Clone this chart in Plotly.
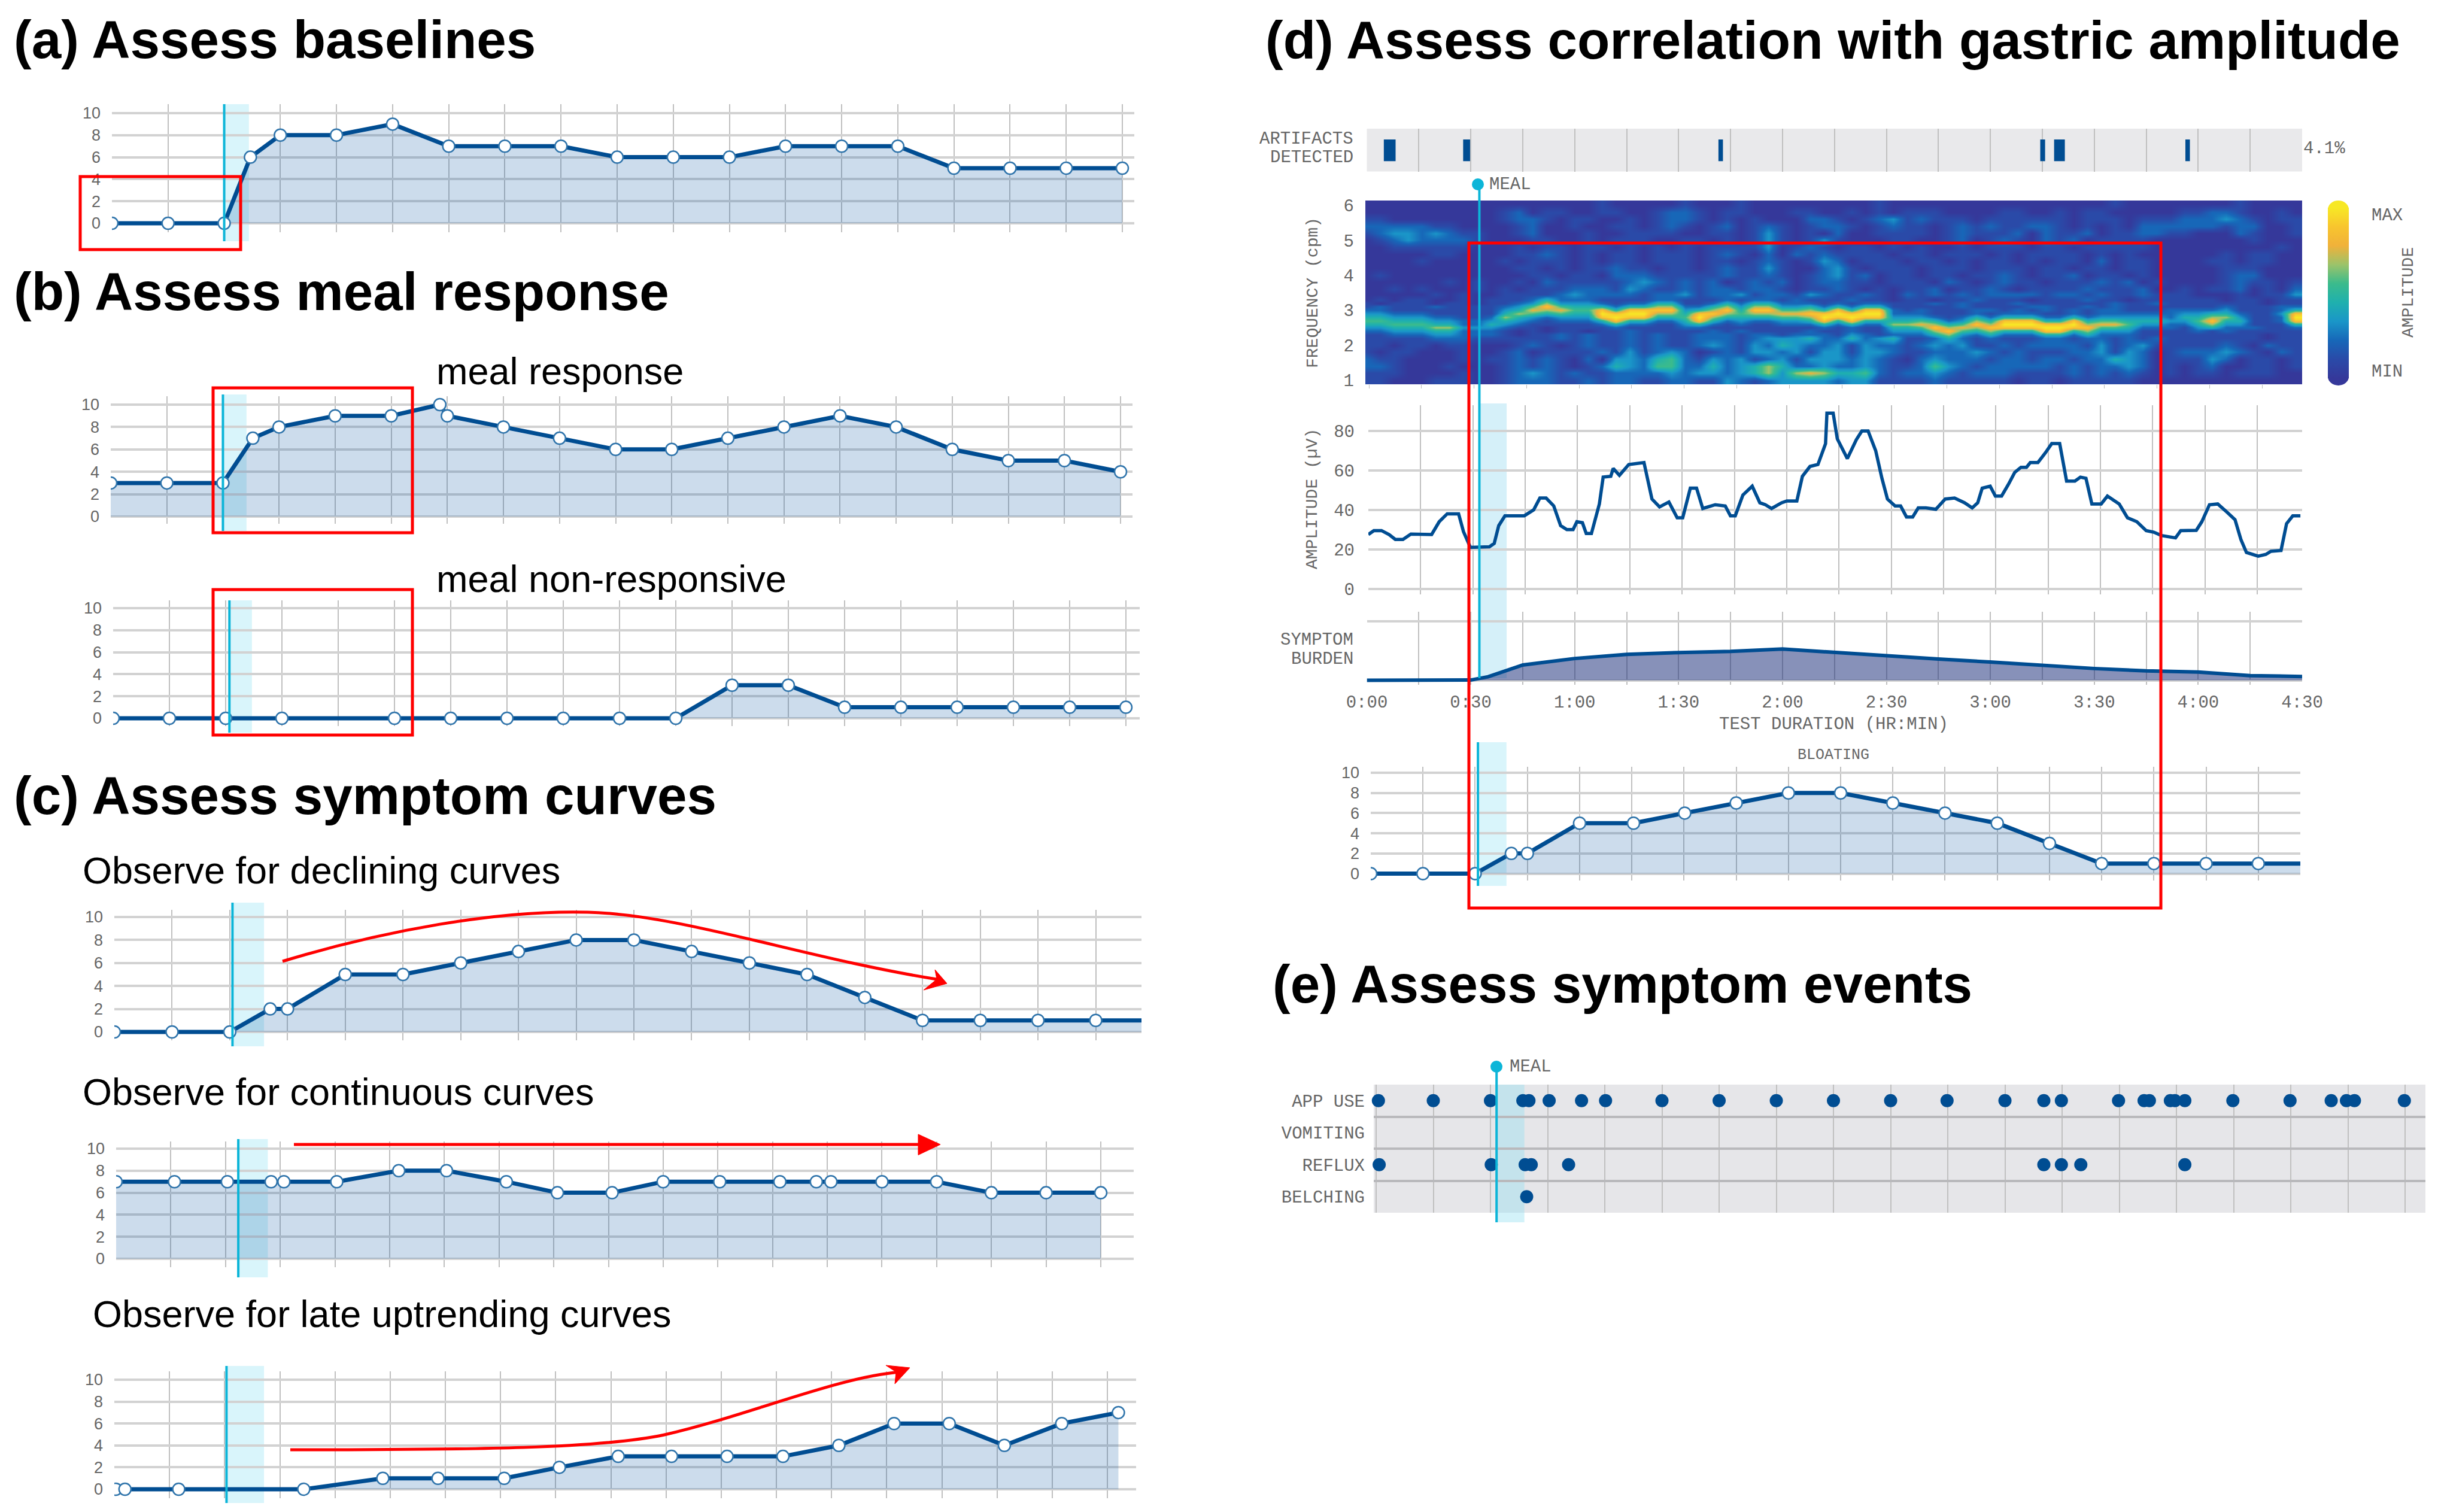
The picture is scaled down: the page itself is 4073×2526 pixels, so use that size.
import plotly.graph_objects as go

# ---------- data ----------
A_T = [0, 15, 30, 37, 45, 60, 75, 90, 105, 120, 135, 150, 165, 180, 195, 210, 225, 240, 255, 270]
A_V = [0, 0, 0, 6, 8, 8, 9, 7, 7, 7, 6, 6, 6, 7, 7, 7, 5, 5, 5, 5]
B1_T = [0, 15, 30, 38, 45, 60, 75, 88, 90, 105, 120, 135, 150, 165, 180, 195, 210, 225, 240, 255, 270]
B1_V = [3, 3, 3, 7, 8, 9, 9, 10, 9, 8, 7, 6, 6, 7, 8, 9, 8, 6, 5, 5, 4]
B2_T = [0, 15, 30, 45, 75, 90, 105, 120, 135, 150, 165, 180, 195, 210, 225, 240, 255, 270]
B2_V = [0, 0, 0, 0, 0, 0, 0, 0, 0, 0, 3, 3, 1, 1, 1, 1, 1, 1]
C1_T = [0, 15, 30, 40.5, 45, 60, 75, 90, 105, 120, 135, 150, 165, 180, 195, 210, 225, 240, 255, 270]
C1_V = [0, 0, 0, 2, 2, 5, 5, 6, 7, 8, 8, 7, 6, 5, 3, 1, 1, 1, 1, 1]
C2_T = [0, 16, 30.5, 42.5, 46, 60.5, 77.5, 90.6, 107, 121, 136, 150, 165.5, 182, 192, 196, 210, 225, 240, 255, 270]
C2_V = [7, 7, 7, 7, 7, 7, 8, 8, 7, 6, 6, 7, 7, 7, 7, 7, 7, 7, 6, 6, 6]
C3_T = [0.4, 2.9, 17.5, 51.5, 73, 88, 106, 121, 137, 151.5, 166.6, 181.8, 197, 212, 227, 242, 257.6, 273]
C3_V = [0, 0, 0, 0, 1, 1, 1, 2, 3, 3, 3, 3, 4, 6, 6, 4, 6, 7]
BLOAT_T = [0, 15, 30, 40.4, 45, 60, 75.5, 90.2, 105, 120, 135, 150, 165, 180, 195, 210, 225, 240, 255, 270]
BLOAT_V = [0, 0, 0, 2, 2, 5, 5, 6, 7, 8, 8, 7, 6, 5, 3, 1, 1, 1, 1, 1]

ARTIFACT_START = [4.9, 27.8, 101.5, 194.4, 198.4, 236.3]
ARTIFACT_END = [8.3, 29.8, 102.8, 195.8, 201.5, 237.6]

AMP_T = [0, 1.6, 3.8, 6, 7.8, 10, 12.3, 18.3, 20.5, 22.8, 26.1, 27.5, 29.5, 35, 36.4, 37.7, 39.5, 45.1, 47.8, 49.6,
         51.4, 53.6, 55.6, 57.4, 59.2, 60.3, 61.9, 63, 64.5, 66.8, 67.9, 70.1, 70.8, 72.6, 75.3, 79.7, 82, 84.2, 86.9,
         89.3, 90.9, 93.1, 94.9, 96.7, 100.3, 103.2, 104.7, 106.1, 108.3, 111, 113.2, 114.8, 116.6, 119.5, 121, 123.9,
         125.5, 127.7, 130, 132.2, 132.6, 134.4, 135.6, 138.5, 141.1, 142.7, 144.5, 146.7, 148.5, 150.1, 152.3, 153.9,
         155.6, 157.4, 159, 161.2, 164.1, 166.8, 169.5, 172.4, 174.6, 176.2, 177.5, 179.8, 181.3, 183.1, 185.1, 186.9,
         188.7, 190.3, 191.4, 193.6, 195.8, 197.6, 199.9, 201.9, 204.3, 205.9, 207.5, 209.2, 211.9, 213.7, 217.1, 219.5,
         222.2, 224.9, 227.1, 229.3, 233.4, 234.9, 239.4, 241, 243.2, 245.6, 248.3, 250.6, 252.3, 253.9, 257.3, 259.5,
         261, 263.9, 265.5, 267.3, 269.5]
AMP_V = [27.5, 29.5, 29.5, 27.5, 25, 25, 27.7, 27.5, 34, 38, 38, 29, 21, 21.3, 23, 32, 37, 37, 40, 46,
         46, 42, 32, 30, 30, 34, 33.5, 28, 28, 43, 56.6, 57, 61, 57.5, 63, 64, 45.5, 41.5, 44,
         36, 36, 51, 51, 40.7, 42.6, 42, 37, 37, 47.5, 52, 43.6, 42.6, 40.7, 43.6, 44.5, 44.5,
         57, 62, 63, 73.6, 89, 89, 76, 66, 75.6, 80, 80, 70, 56, 45.5, 42, 42,
         36.4, 36.4, 41, 41, 40.3, 45.5, 46, 43.6, 41, 43.6, 51, 52, 47, 47, 53, 59,
         61.6, 61.6, 64, 64, 69, 73.6, 73.6, 54.6, 54.6, 56.6, 56, 43, 43, 47, 43, 36,
         34, 29.5, 28.7, 27, 25.8, 29.5, 29.6, 34, 42.6, 43, 38.8, 35, 25, 18.4, 16.5, 17.4,
         19, 19.4, 33, 37, 37]

BURDEN_T = [0, 27, 30, 35, 42, 45, 60, 75, 90, 105, 120, 135, 150, 165, 180, 195, 210, 225, 240, 255, 270]
BURDEN_V = [0, 0, 0.05, 0.6, 2.1, 2.6, 3.7, 4.4, 4.7, 4.9, 5.3, 4.7, 4.1, 3.6, 3.1, 2.5, 2, 1.6, 1.4, 0.8, 0.65]

EVENT_ROWS = ["APP USE", "VOMITING", "REFLUX", "BELCHING"]
APP_USE_T = [0.6, 15, 30, 38.5, 40.1, 45.4, 53.9, 60.2, 75, 90, 105, 120, 135, 149.8, 165, 175.2, 179.8, 194.8,
             201.5, 202.9, 208.4, 209.6, 212.2, 224.8, 239.8, 250.6, 254.6, 256.7, 269.8]
REFLUX_T = [0.8, 30.2, 39.1, 40.7, 50.5, 175.2, 179.8, 184.9, 212.2]
BELCHING_T = [39.5]

# spectrogram: frequency of each row, then rows top (high cpm) to bottom; one digit per 4-minute column
HEAT_FREQ = [6.04, 5.8, 5.6, 5.4, 5.2, 5.0, 4.8, 4.6, 4.4, 4.2, 4.0, 3.8, 3.6, 3.45,
             3.3, 3.2, 3.1, 3.0, 2.9, 2.8, 2.7, 2.6, 2.5, 2.4, 2.3, 2.2,
             2.0, 1.8, 1.6, 1.4, 1.2, 0.98]
HEAT_ROWS = [
    "0000000000 0000000100 0001000100 0000000100 0000000000 0000100000 00010000",
    "0000000000 1201100110 0122101100 0110010101 1100001100 1011000001 12210010",
    "1100000000 1221011001 0122101010 0022101231 2111011111 1011101112 22321011",
    "2222211000 0120010011 0121012012 1012210121 1012121122 1010102222 22122001",
    "1233232110 0120001001 1110011013 1010200111 1012111202 1120112211 00021001",
    "0123222210 0011001011 1001101013 1013100011 0012012102 1201111000 00001000",
    "0011111100 0101101101 0101011113 0121011010 1001011101 1011111000 00000010",
    "0000011000 0112101011 0111012102 0212111101 1011101011 1101010000 00101100",
    "0000100000 1011101011 0111011012 1013201110 1101011010 1102011000 01101100",
    "0000000000 0110101121 1011012113 1002310111 0111011101 1011011000 00111000",
    "0100000000 0011011022 2111112112 1012312011 0110112101 1201101000 00122000",
    "0000001010 0102111112 3212120121 2012211011 1021012110 1112120100 00121101",
    "0010100010 1011122213 2112122122 1011210101 1201121011 1121112001 01120102",
    "0000010100 1111232222 1223122312 2132112102 1212122221 2212112111 00010113",
    "0101100101 1124222111 1221112122 1211121101 1011211101 1121101111 11011011",
    "1011101101 1236333212 2441124244 2221212211 1212111211 1111211211 11111011",
    "1211121111 2358544424 4662246366 3342424411 1112111122 1121211111 11211122",
    "2211111111 3476755848 8883468488 5564848821 2111221212 1212211122 22311124",
    "3322211111 4654544989 9664886566 7788989922 2111212221 1212222223 34421138",
    "4433322112 6432333898 8445964444 5569898833 3212424442 2423333324 46631129",
    "5544433223 4321222484 4224842322 3348484444 5423648884 4845544433 58441128",
    "4455544224 3211111242 2113421211 2224242266 7645869998 8967753322 46331114",
    "3344466333 2110111121 1112211111 1112121144 5867688889 9885542221 34222112",
    "2233344222 1010110112 1111121211 1121121133 3685464448 8463331111 21211111",
    "1122233222 1011212112 1211222122 1222132122 2463242224 4242221111 11111011",
    "1111122211 1111212112 1211222123 3342242341 1242121112 2122121211 11111011",
    "1101101100 0121012112 1211232132 4322313221 2323112122 2213123111 11210211",
    "1011000100 1201111213 1232012133 2313313321 1222321211 1223132012 22321021",
    "2110000101 1212102033 2452132312 3133323210 2322212212 2122432011 13201101",
    "2210001000 1212101243 2552242346 4223223211 2532122222 1212232010 12001101",
    "1110000100 1232121122 2232332346 3676445212 2321222111 1212121010 11011100",
    "1100011100 1222112122 1122113212 3333233111 1211111011 0111110000 00000000",
]
HEAT_COLORS = ["#35389a", "#2a4aa8", "#1767b8", "#1a96c8", "#1fb0ae", "#3bbb8c",
               "#9cc36a", "#f0b13a", "#f8c52e", "#f7e825"]

TITLES = ["(a) Assess baselines", "(b) Assess meal response", "(c) Assess symptom curves",
          "(d) Assess correlation with gastric amplitude", "(e) Assess symptom events"]
SUBTITLES = ["meal response", "meal non-responsive", "Observe for declining curves",
             "Observe for continuous curves", "Observe for late uptrending curves"]
TIME_LABELS = ["0:00", "", "0:30", "", "1:00", "", "1:30", "", "2:00", "", "2:30", "", "3:00", "", "3:30", "",
               "4:00", "", "4:30"]

# ---------- styling ----------
W, H = 4073, 2526
BLUE = "#004d92"
CYAN = "#0cb5d8"
SHADE = "#d9f5fb"
RED = "#ff0000"
AREA = "rgba(0,80,160,0.2)"
HGRID = "#d2d2d2"
VGRID = "#c0c0c0"
TXT = "#666666"
MONO = "Liberation Mono"
SANS = "Liberation Sans"


def fx(p):
    return p / W


def fy(p):
    return 1 - p / H


fig = go.Figure()
layout = {}
shapes = []
annots = []


def axes(n, left, right, x0, x270, top, bottom, y0, ytop, ytopval, yvals, ylabels=None,
         yfont=(SANS, 27), standoff=18, dtick=15, xgrid=True, ygrid=True, xticks=""):
    ppm = (x270 - x0) / 270
    ppv = (y0 - ytop) / ytopval
    layout[f"xaxis{n}"] = dict(
        domain=[fx(left), fx(right)], range=[(left - x0) / ppm, (right - x0) / ppm],
        anchor=f"y{n}", showgrid=xgrid, gridcolor=VGRID, gridwidth=2, zeroline=False,
        tick0=0, dtick=dtick, showticklabels=False, ticks=xticks, ticklen=6, tickcolor="#bbbbbb")
    layout[f"yaxis{n}"] = dict(
        domain=[fy(bottom), fy(top)], range=[(y0 - bottom) / ppv, (y0 - top) / ppv],
        anchor=f"x{n}", showgrid=ygrid, gridcolor=HGRID, gridwidth=4, zeroline=False,
        tickmode="array", tickvals=yvals, ticktext=ylabels if ylabels is not None else [str(v) for v in yvals],
        ticks="", tickfont=dict(family=yfont[0], size=yfont[1], color=TXT), ticklabelstandoff=standoff)


def meal(n, t, t_end, y_top, y_bot, line_top=None, line_bot=None):
    shapes.append(dict(type="rect", xref=f"x{n}", yref="paper", x0=t, x1=t_end, y0=fy(y_bot), y1=fy(y_top),
                       fillcolor=SHADE, line_width=0, layer="below"))
    shapes.append(dict(type="line", xref=f"x{n}", yref="paper", x0=t, x1=t,
                       y0=fy(line_bot if line_bot else y_bot), y1=fy(line_top if line_top else y_top),
                       line=dict(color=CYAN, width=4), layer="above"))


def symptom(n, ts, vs):
    fig.add_trace(go.Scatter(x=ts, y=vs, xaxis=f"x{n}", yaxis=f"y{n}", mode="lines+markers", fill="tozeroy",
                             fillcolor=AREA, line=dict(color=BLUE, width=7),
                             marker=dict(size=20, color="white", line=dict(color="#2f74ab", width=2.5)),
                             showlegend=False, hoverinfo="skip"))


def redbox(l, t, r, b, w=5):
    shapes.append(dict(type="rect", xref="paper", yref="paper", x0=fx(l), x1=fx(r), y0=fy(b), y1=fy(t),
                       line=dict(color=RED, width=w), fillcolor="rgba(0,0,0,0)", layer="above"))


def text(s, x, y, size, family=SANS, color="black", bold=False, anchor="left", angle=0):
    annots.append(dict(text=f"<b>{s}</b>" if bold else s, x=fx(x), y=fy(y), xref="paper", yref="paper",
                       xanchor=anchor, yanchor="middle", showarrow=False, textangle=angle,
                       font=dict(family=family, size=size, color=color)))


def path(d, fill=None, width=5):
    parts = []
    for tok in d.split():
        if "," in tok:
            a, b = tok.split(",")
            parts.append(f"{fx(float(a))},{fy(float(b))}")
        else:
            parts.append(tok)
    shapes.append(dict(type="path", xref="paper", yref="paper", path=" ".join(parts),
                       line=dict(color=RED, width=width), fillcolor=fill if fill else "rgba(0,0,0,0)", layer="above"))


def dot(x, y, r=10):
    shapes.append(dict(type="circle", xref="paper", yref="paper", x0=fx(x - r), x1=fx(x + r),
                       y0=fy(y + r), y1=fy(y - r), fillcolor=CYAN, line_width=0, layer="above"))


TEN = [0, 2, 4, 6, 8, 10]

# (a)
axes(1, 187, 1895, 187, 1875, 174, 388, 373, 189, 10, TEN)
meal(1, 30, 36.6, 174, 403)
symptom(1, A_T, A_V)
redbox(134, 295, 402, 417)
# (b)
axes(2, 185, 1892, 185, 1872, 662, 875, 863, 676, 10, TEN)
meal(2, 30, 36.3, 659, 887)
symptom(2, B1_T, B1_V)
redbox(356, 648, 689, 890)
axes(3, 189, 1904, 189, 1881, 1003, 1213, 1200, 1016, 10, TEN)
meal(3, 31, 37, 1003, 1224)
symptom(3, B2_T, B2_V)
redbox(356, 985, 689, 1228)
# (c)
axes(4, 191, 1907, 191, 1927, 1520, 1738, 1724, 1532, 10, TEN)
meal(4, 30.7, 38.9, 1508, 1748)
symptom(4, C1_T, C1_V)
axes(5, 194, 1894, 194, 1839, 1907, 2117, 2103, 1919, 10, TEN)
meal(5, 33.5, 41.6, 1903, 2134)
symptom(5, C2_T, C2_V)
axes(6, 191, 1898, 191, 1850, 2291, 2503, 2488, 2305, 10, TEN)
meal(6, 30.5, 40.7, 2282, 2511)
symptom(6, C3_T, C3_V)

path("M 472,1606 C 640,1555 830,1520 982,1524 C 1140,1528 1340,1600 1565,1636")
path("M 1582,1643 L 1562,1620 L 1565,1636 L 1543,1654 Z", fill=RED, width=1)
path("M 491,1912 L 1540,1912")
path("M 1571,1912 L 1534,1895 L 1534,1929.5 Z", fill=RED, width=1)
path("M 485,2422 C 800,2422 1000,2420 1110,2397 C 1250,2365 1400,2300 1505,2292")
path("M 1520,2285 L 1480,2281 L 1497,2292 L 1495,2312 Z", fill=RED, width=1)

# (d) artifacts
axes(7, 2283.5, 3846, 2283.5, 3846, 215, 286.5, 286.5, 215, 1, [], standoff=0, ygrid=False)
shapes.append(dict(type="rect", xref="paper", yref="paper", x0=fx(2283.5), x1=fx(3846), y0=fy(286.5), y1=fy(215),
                   fillcolor="#e9e9eb", line_width=0, layer="below"))
fig.add_trace(go.Bar(x=[(a + b) / 2 for a, b in zip(ARTIFACT_START, ARTIFACT_END)],
                     width=[b - a for a, b in zip(ARTIFACT_START, ARTIFACT_END)],
                     y=[0.51] * len(ARTIFACT_START), base=[0.24] * len(ARTIFACT_START),
                     xaxis="x7", yaxis="y7", marker=dict(color=BLUE, line_width=0), showlegend=False, hoverinfo="skip"))

# (d) heatmap
axes(8, 2281, 3846, 2287, 3867, 335, 642, 635, 343, 5, [0, 1, 2, 3, 4, 5, 6], ["", "1", "2", "3", "4", "5", "6"],
     yfont=(MONO, 29), standoff=18, xgrid=False, ygrid=False, xticks="outside")
layout["yaxis8"]["range"] = [1 - (642 - 635) / 58.4, 6 + (343 - 335) / 58.4]
z = [[int(c) for c in row.replace(" ", "")] for row in reversed(HEAT_ROWS)]
n_col = len(HEAT_COLORS)
fig.add_trace(go.Heatmap(z=z, x0=-0.7, dx=3.958, y=list(reversed(HEAT_FREQ)), xaxis="x8", yaxis="y8", zmin=0, zmax=9,
                         zsmooth="best", hoverinfo="skip",
                         colorscale=[[i / (n_col - 1), c] for i, c in enumerate(HEAT_COLORS)],
                         colorbar=dict(x=fx(3889), xanchor="left", xpad=0, ypad=0, y=fy(489.5), yanchor="middle",
                                       len=(632 - 347) / H, lenmode="fraction", thickness=35, thicknessmode="pixels",
                                       outlinewidth=0, showticklabels=False, ticks="")))
shapes.append(dict(type="circle", xref="paper", yref="paper", x0=fx(3889), x1=fx(3924), y0=fy(365), y1=fy(335),
                   fillcolor=HEAT_COLORS[-1], line_width=0, layer="below"))
shapes.append(dict(type="circle", xref="paper", yref="paper", x0=fx(3889), x1=fx(3924), y0=fy(644), y1=fy(614),
                   fillcolor=HEAT_COLORS[0], line_width=0, layer="below"))

# (d) amplitude
axes(9, 2286, 3846, 2286, 3846, 677, 993, 983.6, 720, 80, [0, 20, 40, 60, 80], yfont=(MONO, 29), standoff=22,
     dtick=15.12)
fig.add_trace(go.Scatter(x=AMP_T, y=AMP_V, xaxis="x9", yaxis="y9", mode="lines", line=dict(color=BLUE, width=5.5),
                         showlegend=False, hoverinfo="skip"))

# (d) burden
axes(10, 2283.5, 3846, 2283.5, 3846, 1022, 1144, 1136.6, 1038, 10, [0, 10], ["", ""], standoff=0)
layout["xaxis10"].update(tickmode="array", tickvals=[i * 15 for i in range(19)], ticktext=TIME_LABELS,
                         showticklabels=True, tickfont=dict(family=MONO, size=29, color=TXT), ticklabelstandoff=8)
fig.add_trace(go.Scatter(x=BURDEN_T, y=BURDEN_V, xaxis="x10", yaxis="y10", mode="lines", fill="tozeroy",
                         fillcolor="rgba(15,35,115,0.5)", line=dict(color=BLUE, width=6),
                         showlegend=False, hoverinfo="skip"))

# shared meal marker in (d): line spans the panels, shade spans amplitude and burden
shapes.append(dict(type="rect", xref="x9", yref="paper", x0=32.1, x1=40, y0=fy(1133), y1=fy(674),
                   fillcolor="#d5f0f9", line_width=0, layer="below"))
shapes.append(dict(type="line", xref="x9", yref="paper", x0=32.1, x1=32.1, y0=fy(1133), y1=fy(308),
                   line=dict(color=CYAN, width=4), layer="above"))
dot(2469, 308)

# (d) bloating
axes(11, 2290, 3843, 2290, 3860, 1281, 1471, 1459.5, 1291, 10, TEN)
meal(11, 30.8, 39, 1240, 1480)
symptom(11, BLOAT_T, BLOAT_V)
redbox(2454, 406, 3610, 1517)

# (e) events
layout["xaxis12"] = dict(domain=[fx(2295), fx(4052)], range=[(2295 - 2299) / 6.367, (4052 - 2299) / 6.367],
                         anchor="y12", showgrid=True, gridcolor=VGRID, gridwidth=2, zeroline=False, tick0=0, dtick=15,
                         showticklabels=False, ticks="")
layout["yaxis12"] = dict(domain=[fy(2026), fy(1812)], type="category", categoryorder="array",
                         categoryarray=EVENT_ROWS, range=[3.5, -0.5], anchor="x12", tickson="boundaries",
                         showgrid=True, gridcolor="#b9b9bc", gridwidth=4, zeroline=False, ticks="",
                         tickfont=dict(family=MONO, size=29, color=TXT), ticklabelstandoff=14)
shapes.append(dict(type="rect", xref="paper", yref="paper", x0=fx(2295), x1=fx(4052), y0=fy(2026), y1=fy(1812),
                   fillcolor="#e6e6e9", line_width=0, layer="below"))
shapes.append(dict(type="rect", xref="x12", yref="paper", x0=31.6, x1=38.9, y0=fy(2042), y1=fy(1812),
                   fillcolor="rgba(150,225,240,0.42)", line_width=0, layer="between"))
shapes.append(dict(type="line", xref="x12", yref="paper", x0=31.6, x1=31.6, y0=fy(2042), y1=fy(1782),
                   line=dict(color=CYAN, width=4), layer="above"))
dot(2500, 1782)
for name, times in [("VOMITING", []), ("APP USE", APP_USE_T), ("REFLUX", REFLUX_T), ("BELCHING", BELCHING_T)]:
    fig.add_trace(go.Scatter(x=times, y=[name] * len(times), xaxis="x12", yaxis="y12", mode="markers",
                             marker=dict(size=22, color=BLUE), cliponaxis=False, showlegend=False, hoverinfo="skip"))

# ---------- text ----------
text(TITLES[0], 21, 66, 89, bold=True)
text(TITLES[1], 21, 487, 89, bold=True)
text(TITLES[2], 21, 1329, 89, bold=True)
text(TITLES[3], 2112, 67, 89, bold=True)
text(TITLES[4], 2124, 1644, 89, bold=True)
text(SUBTITLES[0], 727, 620, 63)
text(SUBTITLES[1], 727, 967, 63)
text(SUBTITLES[2], 136, 1454, 63)
text(SUBTITLES[3], 136, 1824, 63)
text(SUBTITLES[4], 153, 2195, 63)

text("ARTIFACTS", 2263, 232, 29, MONO, TXT, anchor="right")
text("DETECTED", 2263, 263.5, 29, MONO, TXT, anchor="right")
text("4.1%", 3846, 248, 29, MONO, TXT)
text("MEAL", 2486, 308, 29, MONO, TXT)
text("FREQUENCY (cpm)", 2194, 489, 28, MONO, TXT, anchor="center", angle=-90)
text("AMPLITUDE (µV)", 2192, 834, 28, MONO, TXT, anchor="center", angle=-90)
text("MAX", 3960, 360, 29, MONO, TXT)
text("MIN", 3960, 621, 29, MONO, TXT)
text("AMPLITUDE", 4024, 489, 28, MONO, TXT, anchor="center", angle=-90)
text("SYMPTOM", 2263, 1069, 29, MONO, TXT, anchor="right")
text("BURDEN", 2263, 1101.5, 29, MONO, TXT, anchor="right")
text("TEST DURATION (HR:MIN)", 3063, 1210, 29, MONO, TXT, anchor="center")
text("BLOATING", 3063, 1261, 25, MONO, TXT, anchor="center")
text("MEAL", 2520, 1782, 29, MONO, TXT)

fig.update_layout(width=W, height=H, margin=dict(l=0, r=0, t=0, b=0, autoexpand=False), paper_bgcolor="white",
                  plot_bgcolor="rgba(0,0,0,0)", showlegend=False, hovermode=False, shapes=shapes, annotations=annots,
                  **layout)
fig.write_html("out.html", config=dict(displayModeBar=False), post_script="document.body.style.margin='0';")
